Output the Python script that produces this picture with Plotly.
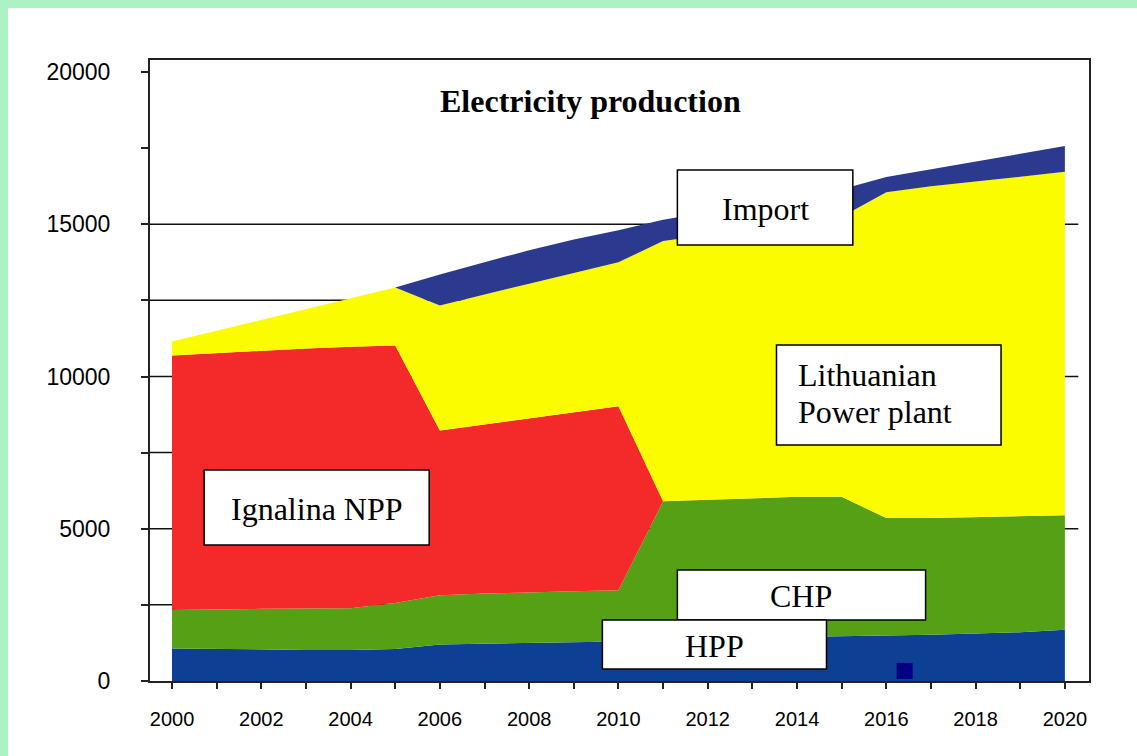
import plotly.graph_objects as go

# ---------------- data ----------------
years = list(range(2000, 2021))
hpp = [1070, 1050, 1030, 1020, 1020, 1050, 1200, 1220, 1240, 1270, 1300,
       1350, 1400, 1420, 1440, 1460, 1500, 1520, 1560, 1600, 1680]
chp = [1260, 1310, 1340, 1360, 1370, 1510, 1620, 1650, 1680, 1680, 1680,
       4550, 4550, 4580, 4610, 4590, 3850, 3830, 3820, 3800, 3760]
ignalina = [8360, 8410, 8480, 8540, 8590, 8460, 5410, 5560, 5710, 5880, 6040,
            0, 0, 0, 0, 0, 0, 0, 0, 0, 0]
lithuanian = [460, 730, 1000, 1280, 1570, 1900, 4100, 4270, 4420, 4570, 4730,
              8550, 8700, 8850, 9000, 9200, 10700, 10900, 11020, 11150, 11280]
imports = [0, 0, 0, 0, 0, 0, 1020, 1050, 1100, 1100, 1050,
           700, 750, 800, 850, 900, 500, 550, 650, 750, 850]

series_names = ["HPP", "CHP", "Ignalina NPP", "Lithuanian Power plant", "Import"]
series_values = [hpp, chp, ignalina, lithuanian, imports]
series_colors = ["#0d3f95", "#55a014", "#f42a2a", "#fcfc00", "#2b3a8f"]

y_tickvals = [0, 2500, 5000, 7500, 10000, 12500, 15000, 17500, 20000]
y_ticktext = ["0", "", "5000", "", "10000", "", "15000", "", "20000"]
x_ticktext = [str(y) if y % 2 == 0 else "" for y in years]
grid_full = [5000, 10000, 15000]
grid_left = [2500, 7500, 12500]

# stray marker in the HPP area
marker_year = [2016.41]
marker_value = [330]

# label boxes: text lines (text, y), x0, x1, y0, y1 (data units), left-aligned?
boxes = [
    ([("Import", 15500)], 2011.32, 2015.25, 14319, 16782, False),
    ([("Lithuanian", 10050), ("Power plant", 8830)], 2013.54, 2018.57, 7750, 11034, True),
    ([("Ignalina NPP", 5650)], 2000.72, 2005.76, 4466, 6929, False),
    ([("CHP", 2780)], 2011.32, 2016.88, 2003, 3645, False),
    ([("HPP", 1140)], 2009.64, 2014.66, 394, 2003, False),
]

fig = go.Figure()
for name, vals, col in zip(series_names, series_values, series_colors):
    fig.add_trace(go.Scatter(
        x=years, y=vals, name=name, mode="lines",
        stackgroup="one", line=dict(width=0, color=col),
        fillcolor=col, showlegend=False, hoverinfo="x+y+name"))

fig.add_trace(go.Scatter(
    x=marker_year, y=marker_value, mode="markers",
    marker=dict(symbol="square", size=16, color="#000080"),
    showlegend=False, hoverinfo="skip"))

shapes = []
# white panel over the green frame background
shapes.append(dict(type="rect", xref="paper", yref="paper",
                   x0=-0.1512, x1=1.06, y0=-0.13, y1=1.0837,
                   fillcolor="white", line=dict(width=0), layer="below"))
for gv in grid_full:
    shapes.append(dict(type="line", xref="x", yref="y",
                       x0=1999.35, x1=2020.3, y0=gv, y1=gv,
                       line=dict(color="#111", width=1.5), layer="below"))
for gv in grid_left:
    shapes.append(dict(type="line", xref="x", yref="y",
                       x0=1999.35, x1=2019.0, y0=gv, y1=gv,
                       line=dict(color="#111", width=1.5), layer="below"))
for lines, x0, x1, y0, y1, left in boxes:
    shapes.append(dict(type="rect", xref="x", yref="y",
                       x0=x0, x1=x1, y0=y0, y1=y1,
                       fillcolor="white", line=dict(color="black", width=1.5),
                       layer="above"))

annotations = []
for lines, x0, x1, y0, y1, left in boxes:
    for text, ty in lines:
        if left:
            annotations.append(dict(x=x0 + 0.44, y=ty, xref="x", yref="y",
                                    text=text, showarrow=False, xanchor="left",
                                    yanchor="middle",
                                    font=dict(family="Liberation Serif", size=32, color="black")))
        else:
            annotations.append(dict(x=(x0 + x1) / 2, y=ty, xref="x", yref="y",
                                    text=text, showarrow=False, xanchor="center",
                                    yanchor="middle",
                                    font=dict(family="Liberation Serif", size=32, color="black")))
annotations.append(dict(x=0.4686, y=0.934, xref="paper", yref="paper",
                        xanchor="center", yanchor="middle",
                        text="<b>Electricity production</b>", showarrow=False,
                        font=dict(family="Liberation Serif", size=32, color="black")))

fig.update_layout(
    width=1137, height=756,
    margin=dict(l=150, r=48, t=60, b=75),
    paper_bgcolor="#adf2c2", plot_bgcolor="white",
    shapes=shapes, annotations=annotations,
    xaxis=dict(range=[1999.507, 2020.54], tickmode="array", tickvals=years,
               ticktext=x_ticktext, ticks="outside", ticklen=6, tickwidth=1.5,
               tickcolor="#222", showgrid=False, zeroline=False,
               showline=True, linecolor="#222", linewidth=2, mirror=True,
               ticklabelstandoff=13,
               tickfont=dict(family="Liberation Sans", size=20, color="black")),
    yaxis=dict(range=[0, 20394], tickmode="array", tickvals=y_tickvals,
               ticktext=y_ticktext, ticks="outside", ticklen=7, tickwidth=1.5,
               tickcolor="#222", showgrid=False, zeroline=False,
               showline=True, linecolor="#222", linewidth=2, mirror=True,
               ticklabelstandoff=26,
               tickfont=dict(family="Liberation Sans", size=23, color="black")),
)

fig.write_html("out.html",
               config={"displayModeBar": False},
               post_script="document.body.style.margin='0px';"
                           "document.body.style.overflow='hidden';")
